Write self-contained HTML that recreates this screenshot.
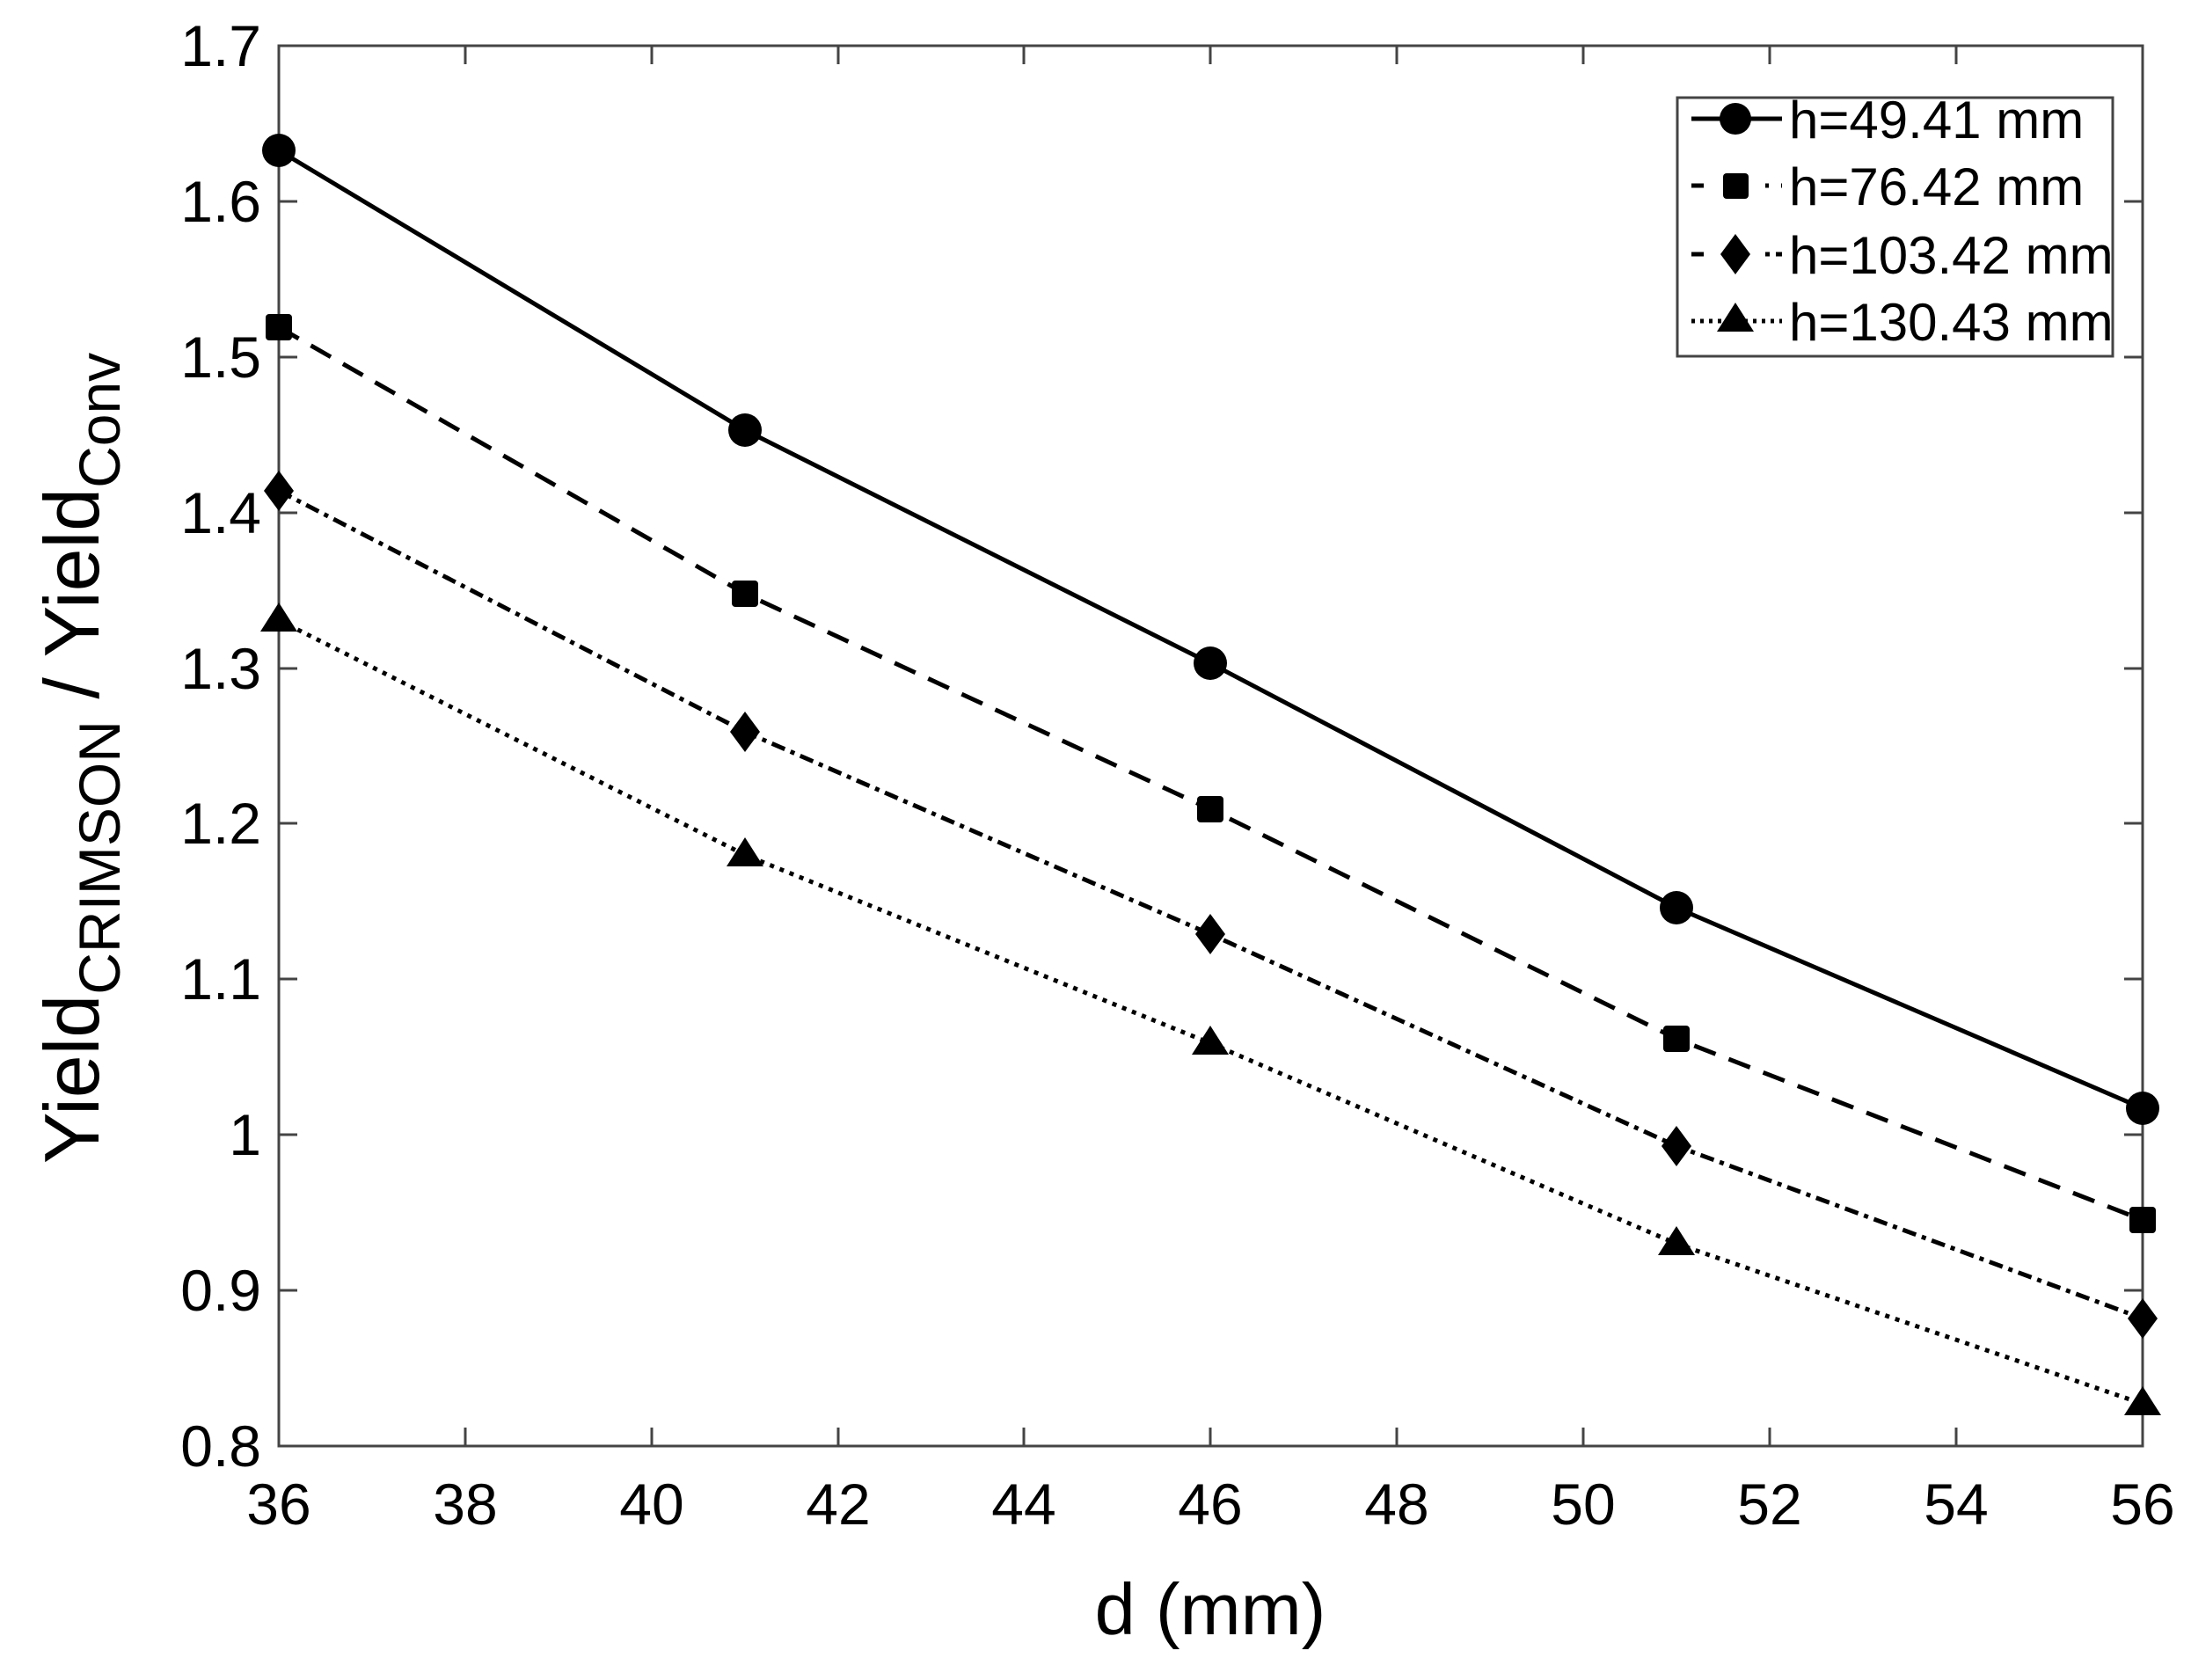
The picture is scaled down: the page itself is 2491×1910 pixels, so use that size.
<!DOCTYPE html>
<html><head><meta charset="utf-8"><style>
html,body{margin:0;padding:0;background:#fff}
svg{display:block}
text{font-family:"Liberation Sans",Arial,sans-serif;fill:#000}
</style></head><body>
<svg width="2491" height="1910" viewBox="0 0 2491 1910" xmlns="http://www.w3.org/2000/svg">
<rect width="2491" height="1910" fill="#fff"/>
<g stroke="#444" stroke-width="3" fill="none">
<rect x="317" y="52" width="2119" height="1592"/>
</g>
<g stroke="#444" stroke-width="3">
<path d="M317,1644v-21M529,1644v-21M741,1644v-21M953,1644v-21M1164,1644v-21M1376,1644v-21M1588,1644v-21M1800,1644v-21M2012,1644v-21M2224,1644v-21M2436,1644v-21"/>
<path d="M317,52v21M529,52v21M741,52v21M953,52v21M1164,52v21M1376,52v21M1588,52v21M1800,52v21M2012,52v21M2224,52v21M2436,52v21"/>
<path d="M317,1644h21M317,1467h21M317,1290h21M317,1113h21M317,936h21M317,760h21M317,583h21M317,406h21M317,229h21M317,52h21"/>
<path d="M2436,1644h-21M2436,1467h-21M2436,1290h-21M2436,1113h-21M2436,936h-21M2436,760h-21M2436,583h-21M2436,406h-21M2436,229h-21M2436,52h-21"/>
</g>
<g font-size="66" text-anchor="end">
<text x="297" y="1667">0.8</text>
<text x="297" y="1490">0.9</text>
<text x="297" y="1313">1</text>
<text x="297" y="1136">1.1</text>
<text x="297" y="959">1.2</text>
<text x="297" y="783">1.3</text>
<text x="297" y="606">1.4</text>
<text x="297" y="429">1.5</text>
<text x="297" y="252">1.6</text>
<text x="297" y="75">1.7</text>
</g>
<g font-size="66" text-anchor="middle">
<text x="317" y="1733">36</text>
<text x="529" y="1733">38</text>
<text x="741" y="1733">40</text>
<text x="953" y="1733">42</text>
<text x="1164" y="1733">44</text>
<text x="1376" y="1733">46</text>
<text x="1588" y="1733">48</text>
<text x="1800" y="1733">50</text>
<text x="2012" y="1733">52</text>
<text x="2224" y="1733">54</text>
<text x="2436" y="1733">56</text>
</g>
<text x="1376" y="1858" font-size="83" text-anchor="middle">d (mm)</text>
<text transform="translate(112,862) rotate(-90)" font-size="88" text-anchor="middle">Yield<tspan font-size="66" dy="24">CRIMSON</tspan><tspan dy="-24"> / Yield</tspan><tspan font-size="66" dy="24">Conv</tspan></text>

<g fill="none" stroke="#000" stroke-width="5">
<polyline points="317,171 847,489 1376,754 1906,1032 2436,1260"/>
<polyline points="317,372 847,675 1376,920 1906,1181 2436,1387" stroke-dasharray="26 16"/>
<polyline points="317,558 847,832 1376,1062 1906,1303 2436,1499" stroke-dasharray="16 7 5 7"/>
<polyline points="317,705 847,972 1376,1186 1906,1414 2436,1596" stroke-dasharray="5 7"/>
</g>
<g fill="#000">
<circle cx="317" cy="171" r="19"/><circle cx="847" cy="489" r="19"/><circle cx="1376" cy="754" r="19"/><circle cx="1906" cy="1032" r="19"/><circle cx="2436" cy="1260" r="19"/>
<rect x="302" y="357" width="30" height="30" rx="4"/><rect x="832" y="660" width="30" height="30" rx="4"/><rect x="1361" y="905" width="30" height="30" rx="4"/><rect x="1891" y="1166" width="30" height="30" rx="4"/><rect x="2421" y="1372" width="30" height="30" rx="4"/>
<path d="M317,535l17,23l-17,23l-17,-23z M847,809l17,23l-17,23l-17,-23z M1376,1039l17,23l-17,23l-17,-23z M1906,1280l17,23l-17,23l-17,-23z M2436,1476l17,23l-17,23l-17,-23z"/>
<path d="M317,685l21,33h-42z M847,952l21,33h-42z M1376,1166l21,33h-42z M1906,1394l21,33h-42z M2436,1576l21,33h-42z"/>
</g>

<rect x="1907" y="111" width="495" height="294" fill="#fff" stroke="#444" stroke-width="3"/>
<g stroke="#000" stroke-width="5" fill="none">
<line x1="1923" y1="135" x2="2026" y2="135"/>
<line x1="1923" y1="211" x2="2026" y2="211" stroke-dasharray="14 70 4"/>
<line x1="1923" y1="289" x2="2026" y2="289" stroke-dasharray="14 70 5 7"/>
<line x1="1923" y1="365" x2="2026" y2="365" stroke-dasharray="4 6"/>
</g>
<g fill="#000">
<circle cx="1973" cy="135" r="18"/>
<rect x="1959" y="197" width="29" height="29" rx="4"/>
<path d="M1973,266l17,23l-17,23l-17,-23z"/>
<path d="M1973,344l21,33h-42z"/>
</g>
<g font-size="60">
<text x="2034" y="157">h=49.41 mm</text>
<text x="2034" y="233">h=76.42 mm</text>
<text x="2034" y="311">h=103.42 mm</text>
<text x="2034" y="387">h=130.43 mm</text>
</g>
</svg>
</body></html>
